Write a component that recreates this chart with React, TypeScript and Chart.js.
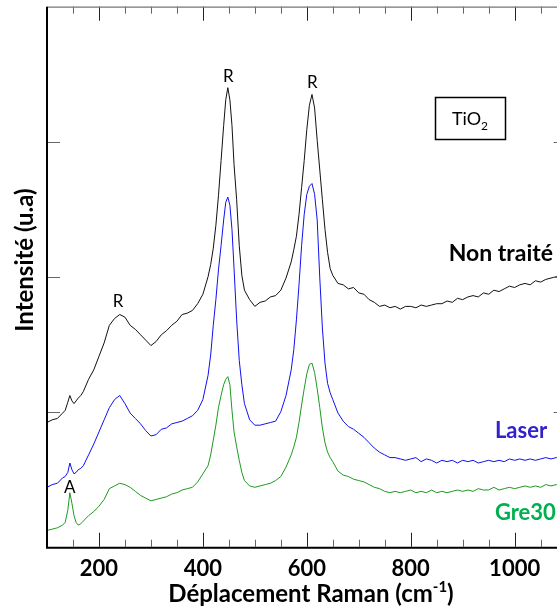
import React, { useEffect, useRef } from 'react';
import { Chart, registerables } from 'chart.js';

Chart.register(...registerables);

// Raman shift (cm-1)
const shifts = [
  100, 110, 120, 130, 135, 140, 144, 148, 152, 156,
  160, 165, 170, 180, 190, 200, 210, 220, 230, 240,
  250, 260, 270, 280, 290, 300, 310, 320, 330, 340,
  350, 360, 370, 380, 390, 400, 410, 415, 420, 425,
  430, 435, 440, 444, 448, 452, 456, 460, 465, 470,
  475, 480, 490, 500, 510, 520, 530, 540, 550, 560,
  570, 575, 580, 585, 590, 595, 600, 605, 610, 615,
  620, 625, 630, 635, 640, 645, 650, 660, 670, 680,
  690, 700, 710, 720, 730, 740, 750, 760, 770, 780,
  790, 800, 810, 820, 830, 840, 850, 860, 870, 880,
  890, 900, 910, 920, 930, 940, 950, 960, 970, 980,
  990, 1000, 1010, 1020, 1030, 1040, 1050, 1060, 1070, 1080,
  1090, 1100,
];

const nonTraite = [
  0.92, 0.94, 0.95, 0.99, 1.01, 1.07, 1.12, 1.08, 1.06, 1.08,
  1.10, 1.12, 1.15, 1.24, 1.31, 1.41, 1.51, 1.64, 1.69, 1.72,
  1.70, 1.64, 1.61, 1.57, 1.53, 1.49, 1.52, 1.57, 1.60, 1.64,
  1.67, 1.72, 1.73, 1.75, 1.80, 1.87, 2.00, 2.09, 2.21, 2.38,
  2.60, 2.86, 3.12, 3.31, 3.40, 3.31, 3.12, 2.83, 2.57, 2.23,
  2.01, 1.90, 1.83, 1.78, 1.81, 1.82, 1.85, 1.86, 1.90, 1.99,
  2.11, 2.20, 2.30, 2.46, 2.66, 2.86, 3.09, 3.27, 3.35, 3.25,
  3.01, 2.79, 2.57, 2.35, 2.18, 2.06, 2.01, 1.95, 1.94, 1.91,
  1.92, 1.88, 1.87, 1.83, 1.81, 1.78, 1.79, 1.77, 1.78, 1.76,
  1.78, 1.78, 1.77, 1.79, 1.78, 1.79, 1.80, 1.80, 1.82, 1.81,
  1.84, 1.83, 1.85, 1.86, 1.85, 1.88, 1.87, 1.90, 1.89, 1.91,
  1.93, 1.92, 1.94, 1.95, 1.94, 1.97, 1.96, 1.98, 1.99, 2.00,
  2.00, 2.01,
];

const laser = [
  0.44, 0.46, 0.47, 0.51, 0.52, 0.55, 0.62, 0.57, 0.54, 0.55,
  0.57, 0.58, 0.60, 0.68, 0.76, 0.85, 0.94, 1.03, 1.09, 1.12,
  1.06, 0.99, 0.95, 0.91, 0.86, 0.82, 0.83, 0.87, 0.88, 0.91,
  0.92, 0.93, 0.95, 0.97, 1.01, 1.09, 1.27, 1.42, 1.64, 1.83,
  2.05, 2.23, 2.42, 2.55, 2.59, 2.53, 2.35, 2.06, 1.68, 1.38,
  1.20, 1.06, 0.94, 0.90, 0.90, 0.91, 0.92, 0.93, 1.00, 1.12,
  1.31, 1.46, 1.68, 1.94, 2.23, 2.46, 2.61, 2.67, 2.69, 2.61,
  2.42, 1.99, 1.62, 1.36, 1.21, 1.14, 1.09, 0.99, 0.93, 0.89,
  0.87, 0.84, 0.81, 0.77, 0.73, 0.70, 0.68, 0.66, 0.66, 0.65,
  0.64, 0.65, 0.66, 0.63, 0.65, 0.64, 0.62, 0.64, 0.63, 0.64,
  0.62, 0.64, 0.63, 0.64, 0.62, 0.63, 0.64, 0.63, 0.64, 0.63,
  0.65, 0.64, 0.65, 0.64, 0.65, 0.64, 0.65, 0.66, 0.65, 0.66,
  0.65, 0.66,
];

const gre30 = [
  0.12, 0.13, 0.14, 0.16, 0.18, 0.27, 0.40, 0.32, 0.23, 0.18,
  0.16, 0.17, 0.19, 0.23, 0.26, 0.30, 0.35, 0.43, 0.45, 0.47,
  0.46, 0.44, 0.41, 0.38, 0.36, 0.34, 0.35, 0.36, 0.37, 0.39,
  0.40, 0.42, 0.43, 0.44, 0.48, 0.54, 0.60, 0.68, 0.79, 0.90,
  1.03, 1.12, 1.20, 1.24, 1.26, 1.20, 1.01, 0.85, 0.74, 0.64,
  0.55, 0.49, 0.45, 0.44, 0.45, 0.46, 0.47, 0.49, 0.52, 0.59,
  0.68, 0.74, 0.81, 0.92, 1.05, 1.17, 1.28, 1.35, 1.36, 1.29,
  1.17, 1.03, 0.88, 0.77, 0.70, 0.66, 0.63, 0.56, 0.53, 0.52,
  0.50, 0.49, 0.48, 0.46, 0.44, 0.43, 0.41, 0.40, 0.41, 0.40,
  0.41, 0.42, 0.40, 0.41, 0.40, 0.42, 0.40, 0.41, 0.40, 0.41,
  0.42, 0.41, 0.42, 0.41, 0.43, 0.42, 0.42, 0.44, 0.42, 0.43,
  0.44, 0.43, 0.44, 0.45, 0.44, 0.45, 0.44, 0.46, 0.45, 0.46,
  0.45, 0.46,
];

const xTickValues = [200, 400, 600, 800, 1000];
const xMinorStep = 50;
const yTickValues = [1, 2, 3];

const peakLabelText = ['R', 'R', 'R', 'A'];
const peakLabelX = [237, 449, 610.5, 144];
const peakLabelY = [1.815, 3.48, 3.44, 0.437];

const sampleNames = ['Non traité', 'Laser', 'Gre30'];
const sampleLabelX = [873, 962, 962];
const sampleLabelY = [2.115, 0.803, 0.198];
const sampleColors = ['#000000', '#3322CC', '#00B050'];
const lineColors = ['#111111', '#1010F0', '#1E9A1E'];

const X_MIN = 100;
const X_MAX = 1100;
const Y_MIN = 0;
const Y_MAX = 4;

const framePlugin = {
  id: 'frameAndText',
  afterDatasetsDraw(chart: any) {
    const { ctx, chartArea: a, scales } = chart;
    const x = scales.x;
    const y = scales.y;
    ctx.save();

    ctx.lineWidth = 1;
    for (let v = X_MIN + xMinorStep; v < X_MAX; v += xMinorStep) {
      const px = Math.round(x.getPixelForValue(v)) + 0.5;
      const major = xTickValues.includes(v);
      const len = major ? 14 : 7;
      ctx.strokeStyle = major ? '#222' : '#666';
      ctx.beginPath();
      ctx.moveTo(px, a.bottom);
      ctx.lineTo(px, a.bottom - len);
      ctx.moveTo(px, a.top);
      ctx.lineTo(px, a.top + len);
      ctx.stroke();
    }
    ctx.strokeStyle = '#666';
    for (const v of yTickValues) {
      const py = Math.round(y.getPixelForValue(v)) + 0.5;
      ctx.beginPath();
      ctx.moveTo(a.left, py);
      ctx.lineTo(a.left + 13, py);
      ctx.moveTo(a.right, py);
      ctx.lineTo(a.right - 13, py);
      ctx.stroke();
    }
    ctx.strokeStyle = '#777';
    ctx.lineWidth = 1.2;
    ctx.beginPath();
    ctx.moveTo(a.left, a.top + 0.5);
    ctx.lineTo(a.right, a.top + 0.5);
    ctx.lineTo(a.right, a.bottom);
    ctx.stroke();
    ctx.strokeStyle = '#000';
    ctx.lineWidth = 2;
    ctx.beginPath();
    ctx.moveTo(a.left, a.top);
    ctx.lineTo(a.left, a.bottom + 1);
    ctx.lineTo(a.right, a.bottom + 1);
    ctx.stroke();

    ctx.fillStyle = '#000';
    ctx.font = '17px Lato';
    ctx.textAlign = 'center';
    ctx.textBaseline = 'middle';
    peakLabelText.forEach((t, i) => {
      ctx.fillText(t, x.getPixelForValue(peakLabelX[i]), y.getPixelForValue(peakLabelY[i]));
    });

    ctx.textAlign = 'left';
    ctx.textBaseline = 'alphabetic';
    sampleNames.forEach((t, i) => {
      ctx.fillStyle = sampleColors[i];
      const fs = i === 0 ? 23 : 22;
      ctx.font = `bold ${fs}px Lato`;
      ctx.fillText(t, x.getPixelForValue(sampleLabelX[i]), y.getPixelForValue(sampleLabelY[i]));
    });

    const bx0 = x.getPixelForValue(847);
    const bx1 = x.getPixelForValue(981);
    const by0 = y.getPixelForValue(3.33);
    const by1 = y.getPixelForValue(3.02);
    ctx.strokeStyle = '#000';
    ctx.lineWidth = 1.5;
    ctx.strokeRect(Math.round(bx0) + 0.5, Math.round(by0) + 0.5, Math.round(bx1 - bx0), Math.round(by1 - by0));
    ctx.fillStyle = '#000';
    ctx.font = '18px Lato';
    const main = 'TiO';
    const mw = ctx.measureText(main).width;
    ctx.font = '12px Lato';
    const sw = ctx.measureText('2').width;
    const tx = (bx0 + bx1) / 2 - (mw + sw) / 2;
    const base = (by0 + by1) / 2 + 6.5;
    ctx.font = '18px Lato';
    ctx.fillText(main, tx, base);
    ctx.font = '12px Lato';
    ctx.fillText('2', tx + mw, base + 5);

    const t1 = 'Déplacement Raman (cm';
    const t2 = '-1';
    const t3 = ')';
    ctx.font = 'bold 24px Lato';
    const w1 = ctx.measureText(t1).width;
    const w3 = ctx.measureText(t3).width;
    ctx.font = 'bold 15px Lato';
    const w2 = ctx.measureText(t2).width;
    const total = w1 + w2 + w3;
    const cx = 311;
    const tb = 602;
    const sx = cx - total / 2;
    ctx.fillStyle = '#000';
    ctx.font = 'bold 24px Lato';
    ctx.fillText(t1, sx, tb);
    ctx.font = 'bold 15px Lato';
    ctx.fillText(t2, sx + w1, tb - 10);
    ctx.font = 'bold 24px Lato';
    ctx.fillText(t3, sx + w1 + w2, tb);

    ctx.save();
    ctx.translate(25, 260);
    ctx.rotate(-Math.PI / 2);
    ctx.textAlign = 'center';
    ctx.textBaseline = 'middle';
    ctx.font = 'bold 24px Lato';
    ctx.fillText('Intensité (u.a)', 0, 0);
    ctx.restore();

    ctx.restore();
  },
};

export default function App() {
  const ref = useRef<HTMLCanvasElement | null>(null);
  useEffect(() => {
    if (!ref.current) return;
    const series = [nonTraite, laser, gre30];
    const chart = new Chart(ref.current, {
      type: 'line',
      data: {
        datasets: series.map((s, i) => ({
          label: sampleNames[i],
          data: shifts.map((xv, k) => ({ x: xv, y: s[k] })),
          borderColor: lineColors[i],
          borderWidth: 1,
          pointRadius: 0,
          tension: 0,
          fill: false,
        })),
      },
      options: {
        responsive: false,
        animation: false,
        devicePixelRatio: 1,
        layout: { padding: { top: 6.7, right: 33.4, bottom: 0, left: 0 } },
        plugins: { legend: { display: false }, tooltip: { enabled: false }, title: { display: false } },
        scales: {
          x: {
            type: 'linear',
            min: X_MIN,
            max: X_MAX,
            afterBuildTicks: (s: any) => {
              s.ticks = xTickValues.map((v) => ({ value: v }));
            },
            afterFit: (s: any) => {
              s.height = 61.3;
            },
            ticks: {
              autoSkip: false,
              maxRotation: 0,
              padding: 9,
              color: '#000',
              font: { family: 'Lato', weight: 'bold', size: 22 },
              callback: (v: any) => String(v),
            },
            grid: { display: false, drawTicks: false },
            border: { display: false },
          },
          y: {
            type: 'linear',
            min: Y_MIN,
            max: Y_MAX,
            afterFit: (s: any) => {
              s.width = 47;
            },
            ticks: { display: false },
            grid: { display: false, drawTicks: false },
            border: { display: false },
          },
        },
      },
      plugins: [framePlugin],
    });
    return () => chart.destroy();
  }, []);
  return (
    <div style={{ position: 'fixed', left: 0, top: 0, width: 557, height: 608, overflow: 'hidden', background: '#fff' }}>
      <canvas ref={ref} width={600} height={608} style={{ display: 'block', width: 600, height: 608 }} />
    </div>
  );
}
